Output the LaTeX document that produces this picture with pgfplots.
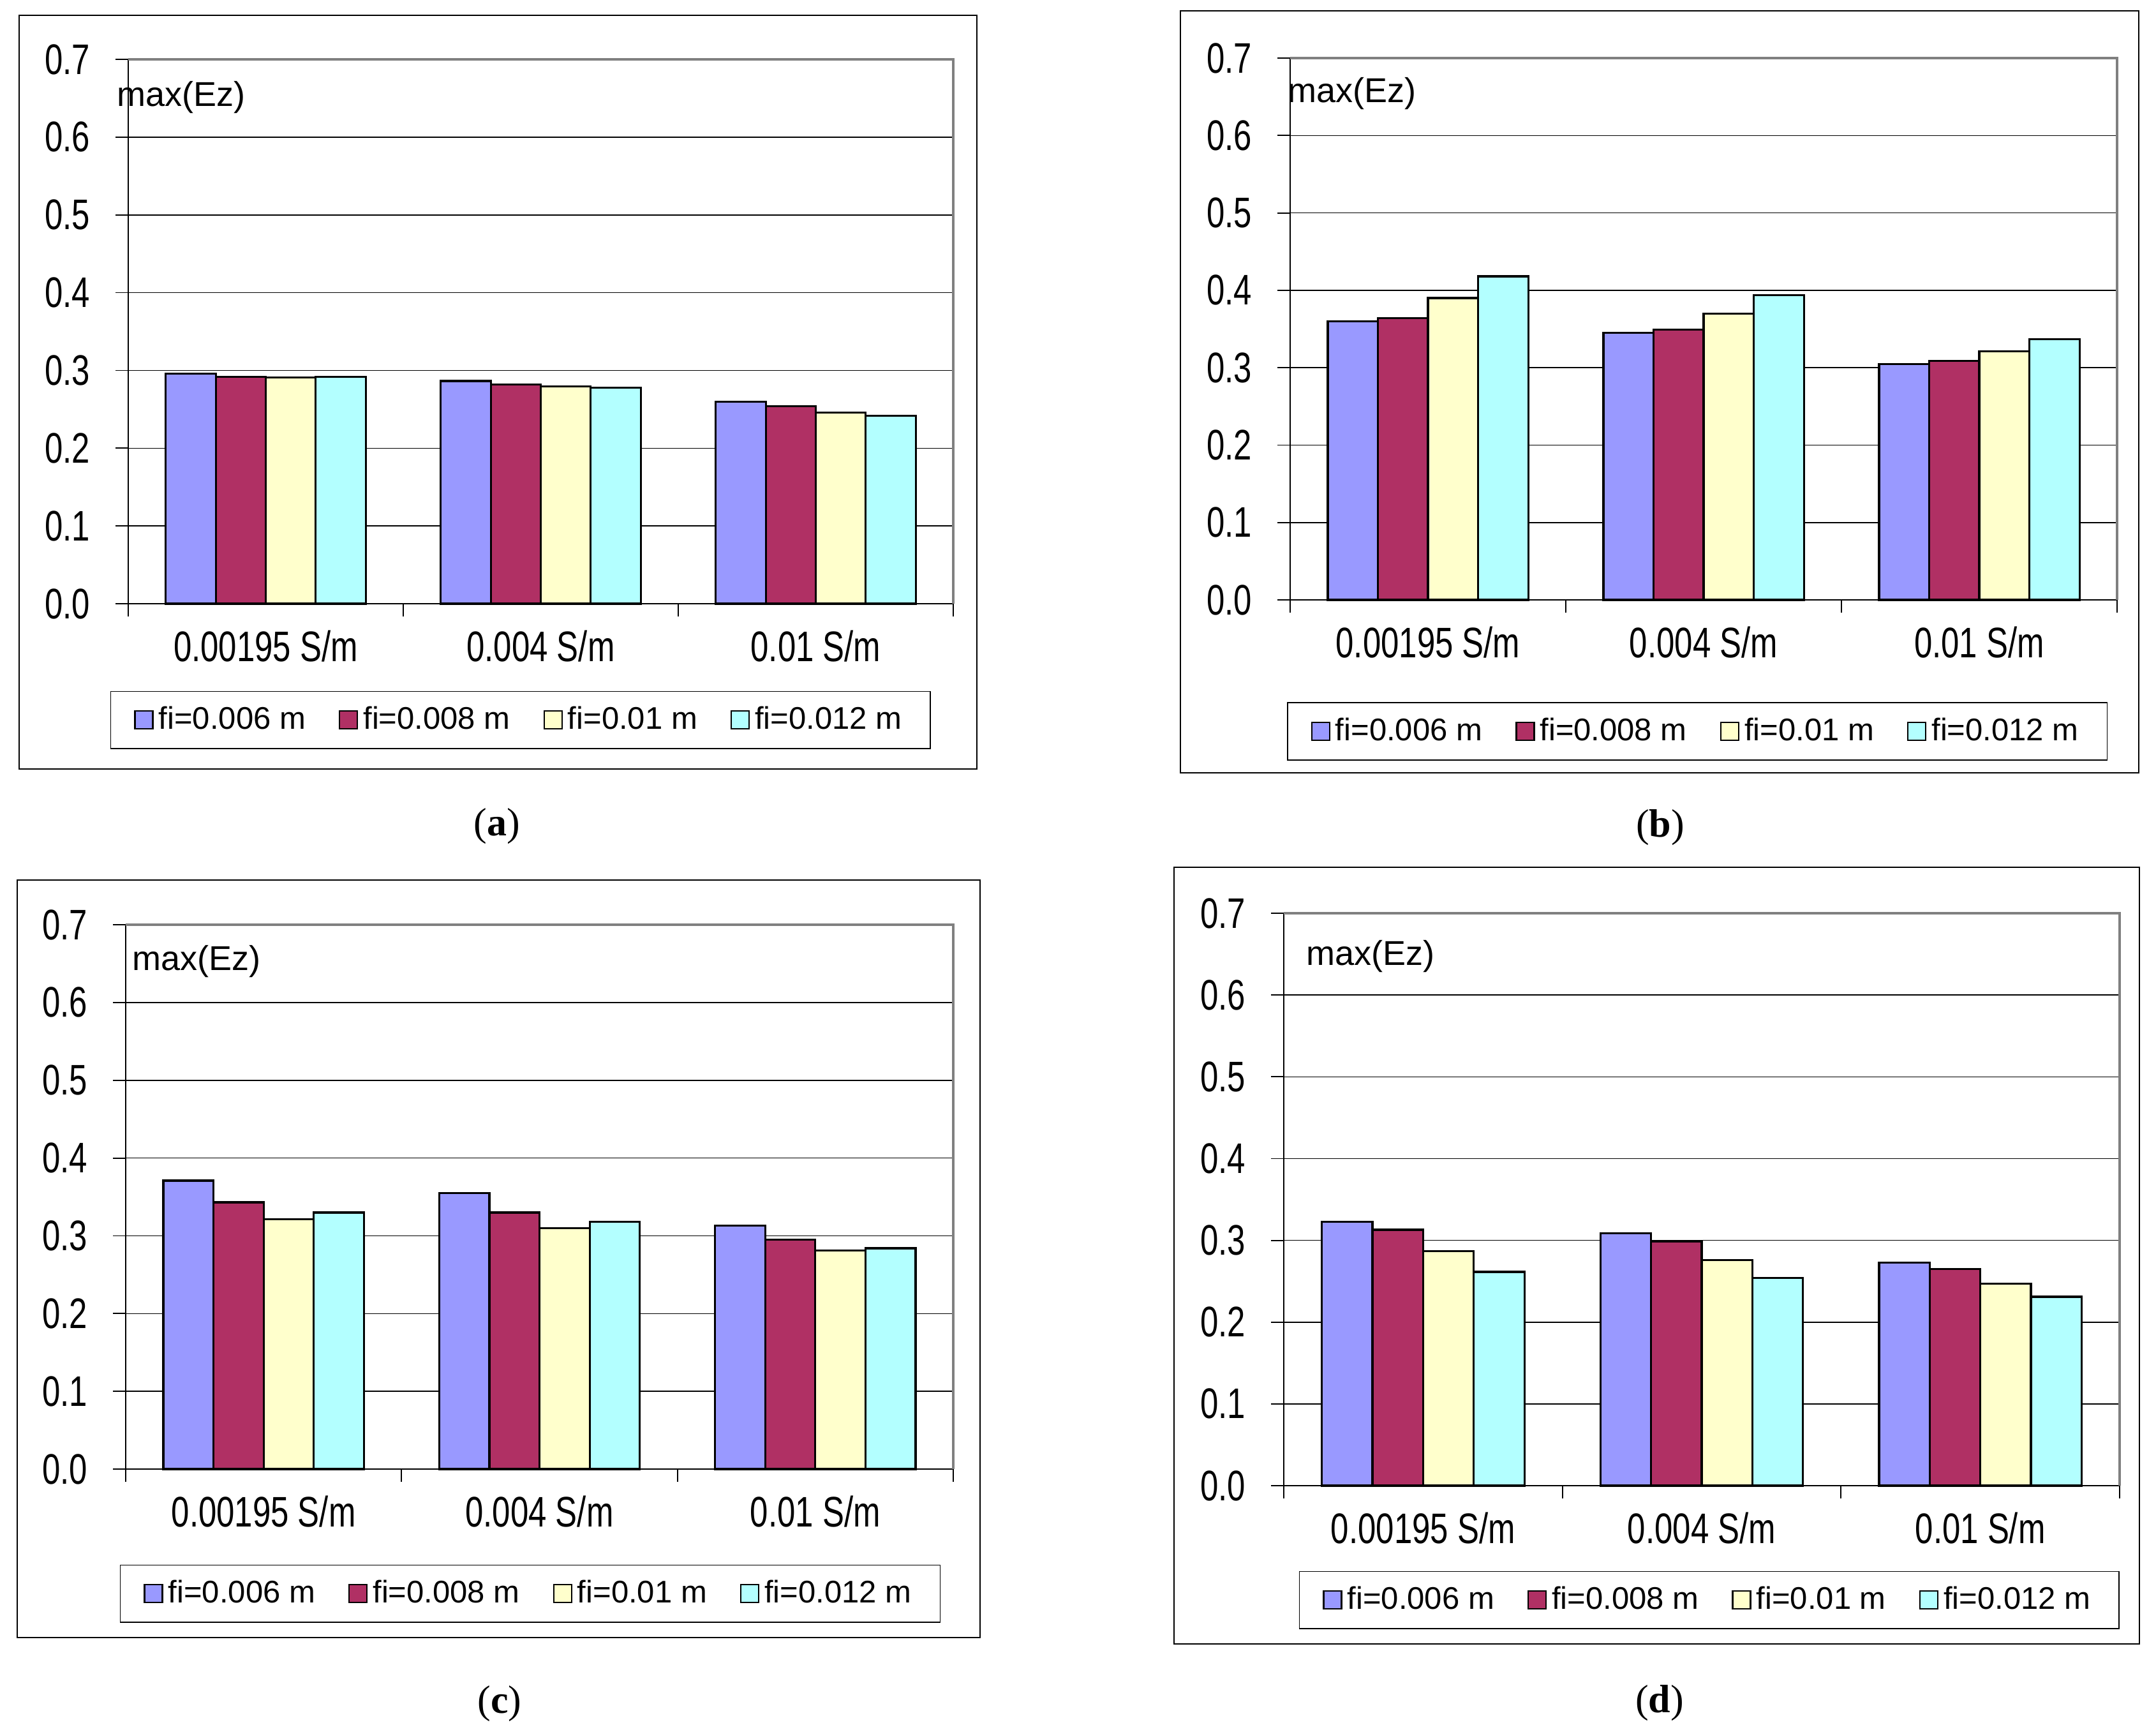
\documentclass[border=0pt]{standalone}
\usepackage{fontspec}
\setmainfont{Liberation Sans}
\newfontfamily\narrow{Liberation Sans}[FakeStretch=0.76]
\newfontfamily\capfont{Liberation Serif}
\usepackage{pgfplots}
\pgfplotsset{compat=1.18}

\definecolor{c1}{HTML}{9999FF}
\definecolor{c2}{HTML}{B03064}
\definecolor{c3}{HTML}{FFFFCC}
\definecolor{c4}{HTML}{B3FFFF}
\definecolor{bordergray}{HTML}{808080}

\pgfplotsset{
  panel/.style={
    scale only axis, clip=false,
    ybar=0pt, bar width=0.1818,
    xmin=0.5, xmax=3.5, ymin=0, ymax=0.7,
    axis lines*=left,
    axis line style={black, line width=0.45pt},
    ytick={0,0.1,0.2,0.3,0.4,0.5,0.6,0.7},
    xtick={0.5,1.5,2.5,3.5}, xticklabels={,,,},
    extra x ticks={1,2,3},
    extra x tick labels={0.00195 S/m,0.004 S/m,0.01 S/m},
    extra x tick style={major tick length=0pt},
    ymajorgrids, major grid style={black, line width=0.4pt},
    tick align=outside, major tick length=5pt,
    tick style={black, line width=0.45pt},
    tick label style={font=\narrow\fontsize{16.75}{18}\selectfont},
    /pgf/number format/assume math mode=true,
    yticklabel style={/pgf/number format/fixed, /pgf/number format/fixed zerofill,
      /pgf/number format/precision=1, anchor=east, inner sep=0pt, xshift=-9.75pt},
    xticklabel style={anchor=center, inner sep=0pt, yshift=-16.65pt},
    legend columns=4,
    legend style={draw=black, line width=0.4pt, anchor=center,
      font=\fontsize{12.25}{14}\selectfont, inner xsep=9.2pt, inner ysep=4pt,
      /tikz/every even column/.append style={column sep=11pt}},
  },
  s1/.style={fill=c1, draw=black, line width=0.8pt,
    legend image code/.code={\draw[fill=c1, draw=black, line width=0.6pt] (-0.5pt,-3.5pt) rectangle (6.5pt,3.5pt);}},
  s2/.style={fill=c2, draw=black, line width=0.8pt,
    legend image code/.code={\draw[fill=c2, draw=black, line width=0.6pt] (-0.5pt,-3.5pt) rectangle (6.5pt,3.5pt);}},
  s3/.style={fill=c3, draw=black, line width=0.8pt,
    legend image code/.code={\draw[fill=c3, draw=black, line width=0.6pt] (-0.5pt,-3.5pt) rectangle (6.5pt,3.5pt);}},
  s4/.style={fill=c4, draw=black, line width=0.8pt,
    legend image code/.code={\draw[fill=c4, draw=black, line width=0.6pt] (-0.5pt,-3.5pt) rectangle (6.5pt,3.5pt);}},
}
\newcommand{\grayborder}{\draw[bordergray, line width=0.8pt] (rel axis cs:0,1) -- (rel axis cs:1,1) -- (rel axis cs:1,0);}

\begin{document}
\begin{tikzpicture}
\path[use as bounding box] (0,0) rectangle (844.75pt,-678.25pt);

% (a)
\begin{axis}[panel, at={(50.25pt,-236.5pt)}, anchor=south west,
  width=323.25pt, height=213.25pt,
  legend style={at={(0.4756,-0.2134)}}]
\addplot[s1] coordinates {(1,0.296) (2,0.2865) (3,0.260)};
\addplot[s2] coordinates {(1,0.292) (2,0.282) (3,0.254)};
\addplot[s3] coordinates {(1,0.291) (2,0.2795) (3,0.246)};
\addplot[s4] coordinates {(1,0.292) (2,0.2775) (3,0.242)};
\legend{fi=0.006 m, fi=0.008 m, fi=0.01 m, fi=0.012 m}
\grayborder
\end{axis}

% (b)
\begin{axis}[panel, at={(505.5pt,-235pt)}, anchor=south west,
  width=324pt, height=212.25pt,
  legend style={at={(0.4923,-0.2426)}}]
\addplot[s1] coordinates {(1,0.360) (2,0.345) (3,0.305)};
\addplot[s2] coordinates {(1,0.364) (2,0.349) (3,0.309)};
\addplot[s3] coordinates {(1,0.390) (2,0.370) (3,0.321)};
\addplot[s4] coordinates {(1,0.418) (2,0.394) (3,0.337)};
\legend{fi=0.006 m, fi=0.008 m, fi=0.01 m, fi=0.012 m}
\grayborder
\end{axis}

% (c)
\begin{axis}[panel, at={(49.25pt,-575.5pt)}, anchor=south west,
  width=324.25pt, height=213.25pt,
  legend style={at={(0.4888,-0.2286)}}]
\addplot[s1] coordinates {(1,0.371) (2,0.355) (3,0.313)};
\addplot[s2] coordinates {(1,0.343) (2,0.330) (3,0.295)};
\addplot[s3] coordinates {(1,0.321) (2,0.310) (3,0.281)};
\addplot[s4] coordinates {(1,0.330) (2,0.318) (3,0.284)};
\legend{fi=0.006 m, fi=0.008 m, fi=0.01 m, fi=0.012 m}
\grayborder
\end{axis}

% (d)
\begin{axis}[panel, at={(503pt,-582pt)}, anchor=south west,
  width=327.5pt, height=224.25pt,
  legend style={at={(0.509,-0.1996)}}]
\addplot[s1] coordinates {(1,0.323) (2,0.309) (3,0.273)};
\addplot[s2] coordinates {(1,0.313) (2,0.299) (3,0.265)};
\addplot[s3] coordinates {(1,0.287) (2,0.276) (3,0.247)};
\addplot[s4] coordinates {(1,0.2615) (2,0.254) (3,0.231)};
\legend{fi=0.006 m, fi=0.008 m, fi=0.01 m, fi=0.012 m}
\grayborder
\end{axis}

% panel frames
\draw[line width=0.35pt] (7.5pt,-6pt) rectangle (382.75pt,-301.25pt);
\draw[line width=0.35pt] (462.5pt,-4.25pt) rectangle (838pt,-302.75pt);
\draw[line width=0.35pt] (6.75pt,-344.75pt) rectangle (384pt,-641.5pt);
\draw[line width=0.35pt] (460pt,-339.75pt) rectangle (838.25pt,-644pt);

% quantity labels
\foreach \x/\y in {45.75/-41.5, 504.5/-40, 51.75/-380, 511.75/-378}
  \node[anchor=base west, inner sep=0pt, font=\fontsize{13.5}{15}\selectfont] at (\x pt,\y pt) {max(Ez)};

% captions
\node[font=\capfont\fontsize{15.5}{17}\selectfont] at (194.75pt,-323.75pt) {(\textbf{a})};
\node[font=\capfont\fontsize{15.5}{17}\selectfont] at (650.5pt,-324.25pt) {(\textbf{b})};
\node[font=\capfont\fontsize{15.5}{17}\selectfont] at (195.75pt,-667.5pt) {(\textbf{c})};
\node[font=\capfont\fontsize{15.5}{17}\selectfont] at (650.25pt,-667.25pt) {(\textbf{d})};
\end{tikzpicture}
\end{document}
